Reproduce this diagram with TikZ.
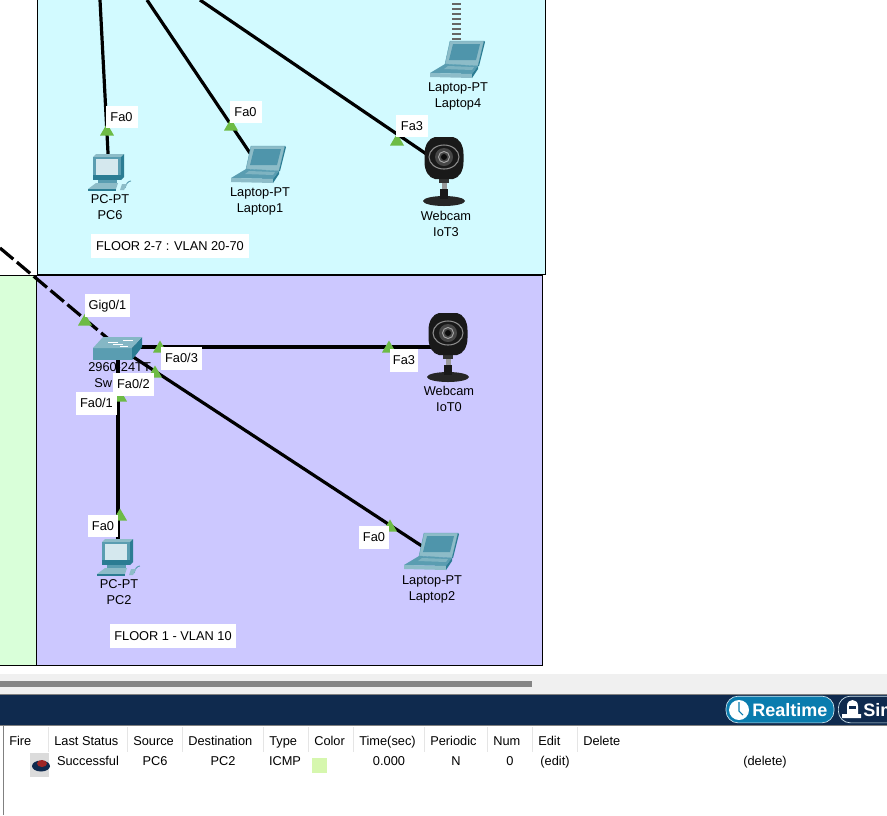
\documentclass[tikz,border=0pt]{standalone}
\usepackage{fontspec}
\setmainfont{Liberation Sans}
\definecolor{cyanzone}{HTML}{D2FAFF}
\definecolor{purplezone}{HTML}{CCC8FF}
\definecolor{greenzone}{HTML}{D9FFD9}
\definecolor{portgreen}{HTML}{6DBB45}
\definecolor{navybar}{HTML}{0F2A4E}
\definecolor{rtblue}{HTML}{0A7CAE}
\definecolor{tealdark}{HTML}{2B7C93}
\definecolor{tealmid}{HTML}{5A9DB1}
\definecolor{teallight}{HTML}{8DBCC8}
\definecolor{screenblue}{HTML}{4F95AB}
\definecolor{screenpale}{HTML}{D5E8EE}
\definecolor{swatchgreen}{HTML}{D6F7AE}
\newcommand{\uifont}{\fontsize{9.6}{11}\selectfont}
\tikzset{
  x=0.75pt,y=-0.75pt,
  zone/.style={draw=black,line width=0.75pt},
  linkline/.style={draw=black,line width=2.4pt},
  trunkline/.style={draw=black,line width=2.4pt,dash pattern=on 13pt off 3.5pt},
  anchorpt/.style={inner sep=0pt,minimum size=0pt},
  devlabel/.style={font=\uifont,align=center,inner sep=0pt,text height=8.2pt,text depth=2pt},
  portlabel/.style={fill=white,inner sep=0pt,font=\uifont,anchor=center,text height=8.2pt,text depth=2pt},
  tabletext/.style={font=\uifont,inner sep=0pt,text height=8.2pt,text depth=2pt},
  headtext/.style={font=\uifont,inner sep=0pt,anchor=west,text height=8.2pt,text depth=2pt},
  sepline/.style={draw=black!10,line width=0.75pt},
  pics/portmark/.style={code={\fill[portgreen] (-7,5.5)--(0,-6.5)--(7,5.5)--cycle;}},
  pics/laptopicon/.style={code={
    \fill[teallight,draw=tealmid,line width=0.3pt] (-7,-19)--(27,-19)--(21,6)--(-12,4)--cycle;
    \fill[tealdark] (27,-19)--(28,-18)--(22,6)--(21,6)--cycle;
    \fill[screenblue] (-4,-16)--(23,-16)--(19,0)--(-8,0)--cycle;
    \fill[tealmid] (-12,4)--(21,6)--(15,14)--(-27,13)--cycle;
    \fill[teallight!70!tealmid] (-9,6)--(17,7)--(15,10)--(-13,9)--cycle;
    \fill[teallight] (-27,13)--(15,14)--(15,18)--(-27,17)--cycle;
    \fill[tealdark] (15,14)--(21,6)--(21,9)--(15,18)--cycle;
  }},
  pics/pcicon/.style={code={
    \fill[teallight] (-16,-15)--(-13,-18)--(15,-18)--(12,-15)--cycle;
    \fill[tealdark] (12,-15)--(15,-18)--(15,5)--(12,8)--cycle;
    \fill[tealmid] (-16,-15) rectangle (12,8);
    \fill[tealdark] (-16,3) rectangle (12,8);
    \fill[screenpale] (-13,-13) rectangle (9,3);
    \fill[tealmid] (-11,8) rectangle (8,11);
    \fill[teallight] (-13,11)--(9,11)--(7,17)--(-21,17)--cycle;
    \fill[tealdark] (-21,17)--(7,17)--(7,18.5)--(-21,18.5)--cycle;
    \draw[tealmid,line width=0.7pt] (16,16) .. controls (17,12) and (19,9) .. (22,9);
    \fill[teallight] (13,12)--(18,12)--(15,18)--(11,18)--cycle;
  }},
  pics/webcamicon/.style={code={
    \fill[black!85] (0,43) ellipse[x radius=21,y radius=5];
    \fill[black!40] (-2.5,24) rectangle (2.5,32);
    \fill[black!90] (-4,31) rectangle (4,41);
    \fill[black!80] (-5,20) rectangle (5,25);
    \fill[black!90] (-9,-21) -- (9,-21) .. controls (15,-20) and (19.5,-13) .. (19.5,-4) -- (19.5,4) .. controls (19.5,13) and (15,20) .. (9,21) -- (-9,21) .. controls (-15,20) and (-19.5,13) .. (-19.5,4) -- (-19.5,-4) .. controls (-19.5,-13) and (-15,-20) .. (-9,-21) -- cycle;
    \draw[black!45,line width=0.8pt] (0,-1) ellipse[x radius=15,y radius=12];
    \fill[black!72] (0,-1) circle[radius=9];
    \draw[black!35,line width=0.7pt] (0,-1) circle[radius=5.5];
    \fill[black!95] (0,-1) circle[radius=3];
  }},
  pics/switchicon/.style={code={
    \fill[tealmid] (-25,1)--(14,1)--(14,13)--(-25,13)--cycle;
    \fill[tealdark] (14,1)--(24,-10)--(24,0)--(14,13)--cycle;
    \fill[teallight!85!tealmid] (-25,1)--(-15,-10)--(24,-10)--(14,1)--cycle;
    \draw[white,line width=0.6pt] (-10,-5)--(0,-5) (-5,-3)--(5,-3) (5,-7)--(15,-7) (2,-1)--(10,-1);
  }}
}
\begin{document}
\begin{tikzpicture}
\useasboundingbox (0,0) rectangle (887,815);
\clip (0,0) rectangle (887,815);
\fill[white] (0,0) rectangle (887,815);
% zones
\path[zone,fill=cyanzone] (37.5,-5) rectangle (545.5,274);
\path[zone,fill=greenzone] (-5,275) rectangle (36,665);
\path[zone,fill=purplezone] (36,275) rectangle (542.5,665);
% anchors
\coordinate (topa) at (100,0);
\coordinate (topb) at (147,0);
\coordinate (topc) at (200,0);
\coordinate (trunkend) at (0,248);
\node[anchorpt] (pc6) at (109,172) {};
\node[anchorpt] (lap1) at (258,165) {};
\node[anchorpt] (iot3) at (444,166) {};
\node[anchorpt] (lap4) at (457,60) {};
\node[anchorpt] (sw) at (118,347) {};
\node[anchorpt] (iot0) at (448,347) {};
\node[anchorpt] (pc2) at (118,557) {};
\node[anchorpt] (lap2) at (431,552) {};
% device labels under links
\node[devlabel,anchor=west] (swa) at (88,367) {2960-24TT};
\node[devlabel,anchor=west] (swb) at (94,383) {Sw};
% links
\draw[trunkline] (trunkend) -- (sw);
\draw[linkline] (topa) -- (pc6);
\draw[linkline] (topb) -- (lap1);
\draw[linkline] (topc) -- (iot3);
\draw[linkline] (sw) -- (iot0);
\draw[linkline] (sw) -- (pc2);
\draw[linkline] (sw) -- (lap2);
% antenna
\foreach \yy in {4,9,14,19,24,29,34,39}{\draw[black!60,line width=1.4pt] (452,\yy) -- (461,\yy);}
% icons
\pic at (109,172) {pcicon};
\pic at (258,165) {laptopicon};
\pic at (457,60) {laptopicon};
\pic at (444,158) {webcamicon};
\pic at (118,347) {switchicon};
\pic at (448,334) {webcamicon};
\pic at (118,557) {pcicon};
\pic at (431,552) {laptopicon};
% device labels
\node[devlabel] (t1) at (110,199) {PC-PT};
\node[devlabel] (t2) at (110,215) {PC6};
\node[devlabel] (t3) at (260,192) {Laptop-PT};
\node[devlabel] (t4) at (260,208) {Laptop1};
\node[devlabel] (t5) at (446,216) {Webcam};
\node[devlabel] (t6) at (446,232) {IoT3};
\node[devlabel] (t7) at (458,87) {Laptop-PT};
\node[devlabel] (t8) at (458,103) {Laptop4};
\node[devlabel] (t9) at (449,391) {Webcam};
\node[devlabel] (t10) at (449,407) {IoT0};
\node[devlabel] (t11) at (119,584) {PC-PT};
\node[devlabel] (t12) at (119,600) {PC2};
\node[devlabel] (t13) at (432,580) {Laptop-PT};
\node[devlabel] (t14) at (432,596) {Laptop2};
% port marks
\foreach \px/\py in {107/130,231/125,397/140,85/320,160/347,389/347,155/372,120/396,120/515,390/526}{\pic at (\px,\py) {portmark};}
% port labels
\node[portlabel,minimum width=24pt,minimum height=17pt] (p1) at (121.5,117) {Fa0};
\node[portlabel,minimum width=24pt,minimum height=17pt] (p2) at (245.5,112) {Fa0};
\node[portlabel,minimum width=24pt,minimum height=17pt] (p3) at (412,126) {Fa3};
\node[portlabel,minimum width=33.5pt,minimum height=17pt] (p4) at (107.5,305.5) {Gig0/1};
\node[portlabel,minimum width=31pt,minimum height=17pt] (p5) at (181.5,358.5) {Fa0/3};
\node[portlabel,minimum width=31pt,minimum height=17pt] (p6) at (133.5,384.5) {Fa0/2};
\node[portlabel,minimum width=31pt,minimum height=17pt] (p7) at (96.5,403.5) {Fa0/1};
\node[portlabel,minimum width=21pt,minimum height=17pt] (p8) at (404,360.5) {Fa3};
\node[portlabel,minimum width=22.5pt,minimum height=17pt] (p9) at (103,526) {Fa0};
\node[portlabel,minimum width=22.5pt,minimum height=17pt] (p10) at (374,537.5) {Fa0};
% zone labels
\node[portlabel,minimum width=118.5pt,minimum height=18pt] (z1) at (170,246) {FLOOR 2-7 : VLAN 20-70};
\node[portlabel,minimum width=94.5pt,minimum height=18pt] (z2) at (173,636) {FLOOR 1 - VLAN 10};
% bottom chrome
\fill[black!6] (0,674) rectangle (887,694);
\fill[black!48] (0,681) rectangle (532,687);
\fill[navybar] (0,695) rectangle (887,725);
\draw[black!50,line width=0.75pt] (0,694.5) -- (887,694.5);
\draw[black!50,line width=0.75pt] (0,725.5) -- (887,725.5);
\draw[black!50,line width=0.75pt] (3.5,726) -- (3.5,815);
\node[draw=white!80!rtblue,fill=rtblue,rounded corners=9pt,line width=0.5pt,minimum width=81pt,minimum height=20pt,inner sep=0pt] (rt) at (780,709.5) {};
\fill[white] (739,710) circle[radius=10];
\draw[rtblue,line width=0.8pt] (739,702) -- (739,711) -- (743,715);
\node[font=\bfseries\fontsize{13.5}{15}\selectfont,text=white,inner sep=0pt,anchor=west] (rtt) at (752,710) {Realtime};
\node[draw=white!80!rtblue,fill=navybar,rounded corners=9pt,line width=0.5pt,minimum width=75pt,minimum height=20pt,inner sep=0pt,anchor=west] (simb) at (838,709.5) {};
\fill[white] (842,718) -- (842,714) -- (847,714) -- (847,706) .. controls (847,698) and (858,698) .. (858,706) -- (858,714) -- (861,714) -- (861,718) -- cycle;
\fill[navybar] (849,706) rectangle (856,709);
\node[font=\bfseries\fontsize{13.5}{15}\selectfont,text=white,inner sep=0pt,anchor=west] (simt) at (863,710) {Sim};
% table
\foreach \sx in {48,127,182,263,308,353,424,487,532,577}{\draw[sepline] (\sx,727) -- (\sx,752);}
\node[headtext] (h1) at (9,741) {Fire};
\node[headtext] (h2) at (54,741) {Last Status};
\node[headtext] (h3) at (133,741) {Source};
\node[headtext] (h4) at (188,741) {Destination};
\node[headtext] (h5) at (269,741) {Type};
\node[headtext] (h6) at (314,741) {Color};
\node[headtext] (h7) at (359,741) {Time(sec)};
\node[headtext] (h8) at (430,741) {Periodic};
\node[headtext] (h9) at (493,741) {Num};
\node[headtext] (h10) at (538,741) {Edit};
\node[headtext] (h11) at (583,741) {Delete};
\fill[black!14] (30,753) rectangle (49,777);
\fill[navybar] (41,766) ellipse[x radius=9,y radius=5.5];
\fill[red!55!black!85!white] (42,763.5) ellipse[x radius=5,y radius=3.5];
\node[tabletext] (r1) at (88,761) {Successful};
\node[tabletext] (r2) at (155,761) {PC6};
\node[tabletext] (r3) at (223,761) {PC2};
\node[tabletext] (r4) at (285,761) {ICMP};
\fill[swatchgreen] (312,758) rectangle (327,773);
\node[tabletext] (r5) at (389,761) {0.000};
\node[tabletext] (r6) at (456,761) {N};
\node[tabletext] (r7) at (510,761) {0};
\node[tabletext] (r8) at (555,761) {(edit)};
\node[tabletext] (r9) at (765,761) {(delete)};
\end{tikzpicture}
\end{document}
